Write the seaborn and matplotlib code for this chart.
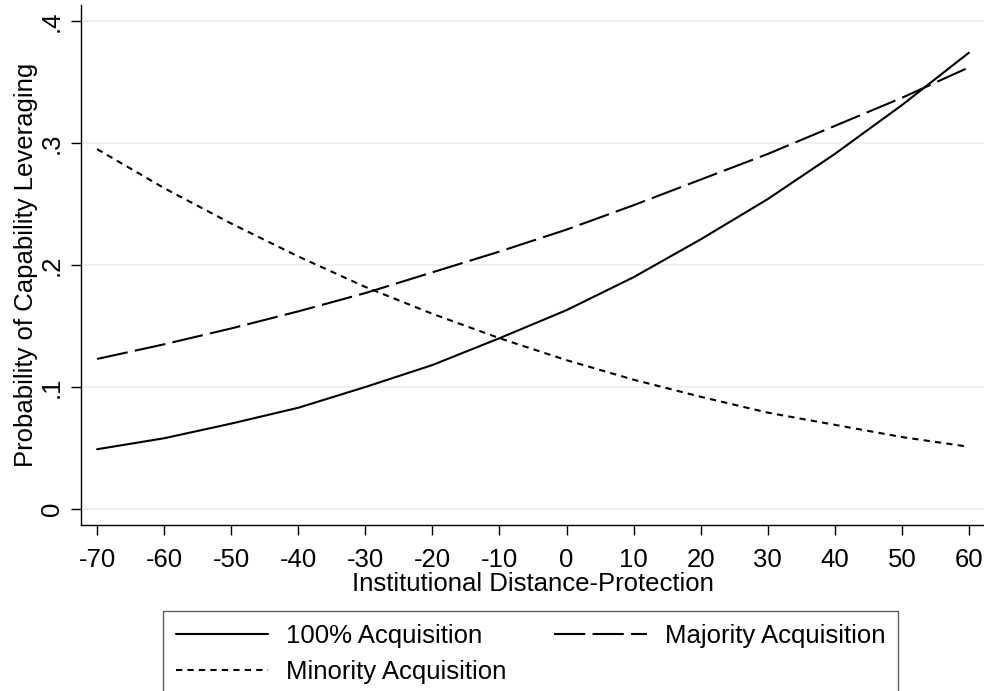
import numpy as np
import pandas as pd
import matplotlib.pyplot as plt
import seaborn as sns

# values
distance = [-70, -60, -50, -40, -30, -20, -10, 0, 10, 20, 30, 40, 50, 60]
full_acq = [0.049, 0.058, 0.070, 0.083, 0.100, 0.118, 0.140, 0.163, 0.190, 0.221, 0.254, 0.291, 0.331, 0.374]
majority_acq = [0.123, 0.135, 0.148, 0.162, 0.177, 0.194, 0.211, 0.229, 0.249, 0.270, 0.291, 0.314, 0.337, 0.362]
minority_acq = [0.295, 0.263, 0.234, 0.207, 0.182, 0.160, 0.140, 0.122, 0.106, 0.092, 0.079, 0.069, 0.059, 0.051]

y_ticks = [0, 0.1, 0.2, 0.3, 0.4]
y_ticklabels = ['0', '.1', '.2', '.3', '.4']
x_ticks = list(range(-70, 61, 10))

df = pd.DataFrame({
    'Distance': distance * 3,
    'Prob': full_acq + majority_acq + minority_acq,
    'Type': ['100% Acquisition'] * 14 + ['Majority Acquisition'] * 14 + ['Minority Acquisition'] * 14,
})

sns.set_theme(style='white')
plt.rcParams['font.family'] = ['Liberation Sans', 'DejaVu Sans']
plt.rcParams['text.color'] = 'black'
plt.rcParams['axes.labelcolor'] = 'black'
plt.rcParams['xtick.color'] = 'black'
plt.rcParams['ytick.color'] = 'black'
FS = 18.5

fig = plt.figure(figsize=(9.84, 6.91), dpi=100)
ax = fig.add_axes([81 / 984, 1 - 525 / 691, 904 / 984, 520 / 691])

styles = {
    '100% Acquisition': '',
    'Majority Acquisition': (15, 3.5),
    'Minority Acquisition': (3, 2.5),
}
handles = {}
for name, dash in styles.items():
    sub = df[df['Type'] == name]
    sns.lineplot(data=sub, x='Distance', y='Prob', ax=ax, color='black', lw=1.5, label=name)
    line = ax.lines[-1]
    if dash:
        line.set_dashes(dash)
    handles[name] = line

ax.set_xlim(-72.4, 62.4)
ax.set_ylim(-0.0131, 0.4131)
ax.set_yticks(y_ticks)
ax.set_yticklabels(y_ticklabels, rotation=90, va='center')
ax.set_xticks(x_ticks)
ax.set_xticklabels([str(v) for v in x_ticks])

for y in y_ticks:
    ax.axhline(y, color='#eaf2f3', lw=1.5, zorder=0)

sns.despine(ax=ax)
for s in ['left', 'bottom']:
    ax.spines[s].set_color('black')
    ax.spines[s].set_linewidth(1.0)
ax.tick_params(axis='x', which='major', direction='out', length=7.5, width=1,
               color='black', labelcolor='black', labelsize=FS, pad=9, bottom=True)
ax.tick_params(axis='y', which='major', direction='out', length=7.5, width=1,
               color='black', labelcolor='black', labelsize=FS, pad=5, left=True)

ax.set_xlabel('Institutional Distance-Protection', fontsize=FS, labelpad=0, color='black')
ax.set_ylabel('Probability of Capability Leveraging', fontsize=FS, labelpad=1, color='black')

ax.get_legend().remove()
order = ['100% Acquisition', 'Minority Acquisition', 'Majority Acquisition']
leg = fig.legend([handles[k] for k in order], order, ncol=2,
                 loc='upper left', bbox_to_anchor=(163 / 984, 1 - 611 / 691),
                 fontsize=FS, frameon=True, fancybox=False, edgecolor='#333333',
                 handlelength=3.6, handletextpad=0.7, columnspacing=1.85,
                 borderpad=0.5, labelspacing=0.48, borderaxespad=0)
leg.get_frame().set_linewidth(1.0)
for t in leg.get_texts():
    t.set_color('black')

fig.savefig('out.png', dpi=100)
